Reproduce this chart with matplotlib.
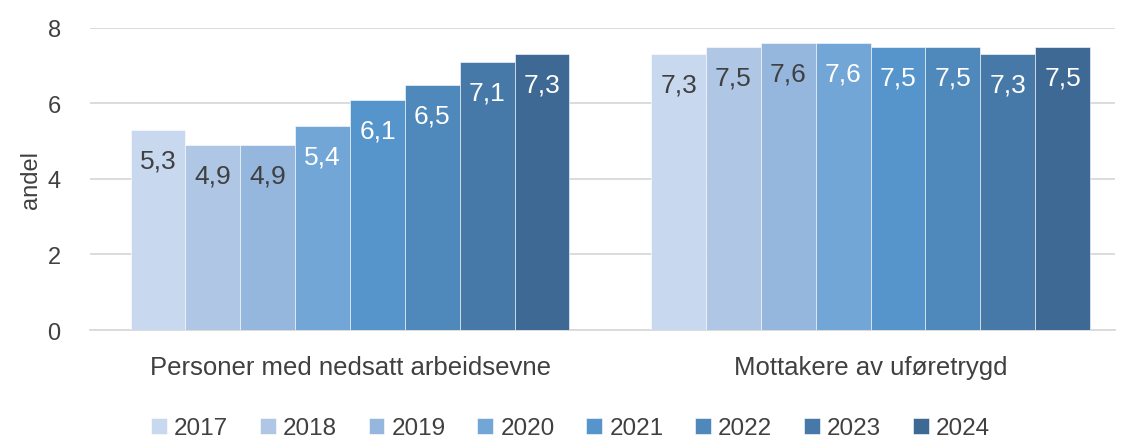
import matplotlib.pyplot as plt
import numpy as np

plt.rcParams['font.family'] = ['Liberation Sans', 'DejaVu Sans']

# data
categories = ['Personer med nedsatt arbeidsevne', 'Mottakere av uføretrygd']
years = ['2017', '2018', '2019', '2020', '2021', '2022', '2023', '2024']
personer = [5.3, 4.9, 4.9, 5.4, 6.1, 6.5, 7.1, 7.3]
mottakere = [7.3, 7.5, 7.6, 7.6, 7.5, 7.5, 7.3, 7.5]

colors = ['#C8D8EE', '#AFC6E4', '#95B7DD', '#72A6D7', '#5695CB', '#4F88BB', '#4779A8', '#3D6994']
label_colors = ['#404040', '#404040', '#404040', 'white', 'white', 'white', 'white', 'white']

values = np.array([personer, mottakere]).T  # rows = years

fig = plt.figure(figsize=(11.23, 4.39), dpi=100)
ax = fig.add_axes([0.080, 0.246, 0.913, 0.688])

x = np.arange(len(categories))
width = 0.1054
n = len(years)
for i, year in enumerate(years):
    pos = x + (i - (n - 1) / 2) * width
    bars = ax.bar(pos, values[i], width, color=colors[i], label=year,
                  edgecolor='white', linewidth=0.4, zorder=3)
    for b, v in zip(bars, values[i]):
        ax.annotate(f'{v:.1f}'.replace('.', ','),
                    (b.get_x() + b.get_width() / 2, v),
                    xytext=(0, -22), textcoords='offset points',
                    ha='center', va='center', fontsize=19,
                    color=label_colors[i], zorder=4)

ax.set_ylim(0, 8)
ax.set_yticks([0, 2, 4, 6, 8])
ax.set_xlim(-0.5, 1.47)
ax.set_xticks(x)
ax.set_xticklabels(categories, fontsize=18.5, color='#404040')
ax.tick_params(axis='x', length=0, pad=18)
ax.tick_params(axis='y', length=0, labelsize=17, labelcolor='#404040', pad=21)
ax.grid(axis='y', color='#D9D9D9', linewidth=1.3, zorder=0)
for s in ['top', 'right', 'left']:
    ax.spines[s].set_visible(False)
ax.spines['bottom'].set_color('#D9D9D9')
ax.spines['bottom'].set_linewidth(1.3)
ax.set_ylabel('andel', fontsize=17, color='#404040', labelpad=4)

fig.legend(loc='center', bbox_to_anchor=(0.508, 0.022), ncol=8, frameon=False,
           fontsize=17.5, handlelength=0.65, handleheight=0.65, handletextpad=0.3,
           columnspacing=1.3, labelcolor='#404040', borderaxespad=0)

fig.savefig('out.png', dpi=100)
